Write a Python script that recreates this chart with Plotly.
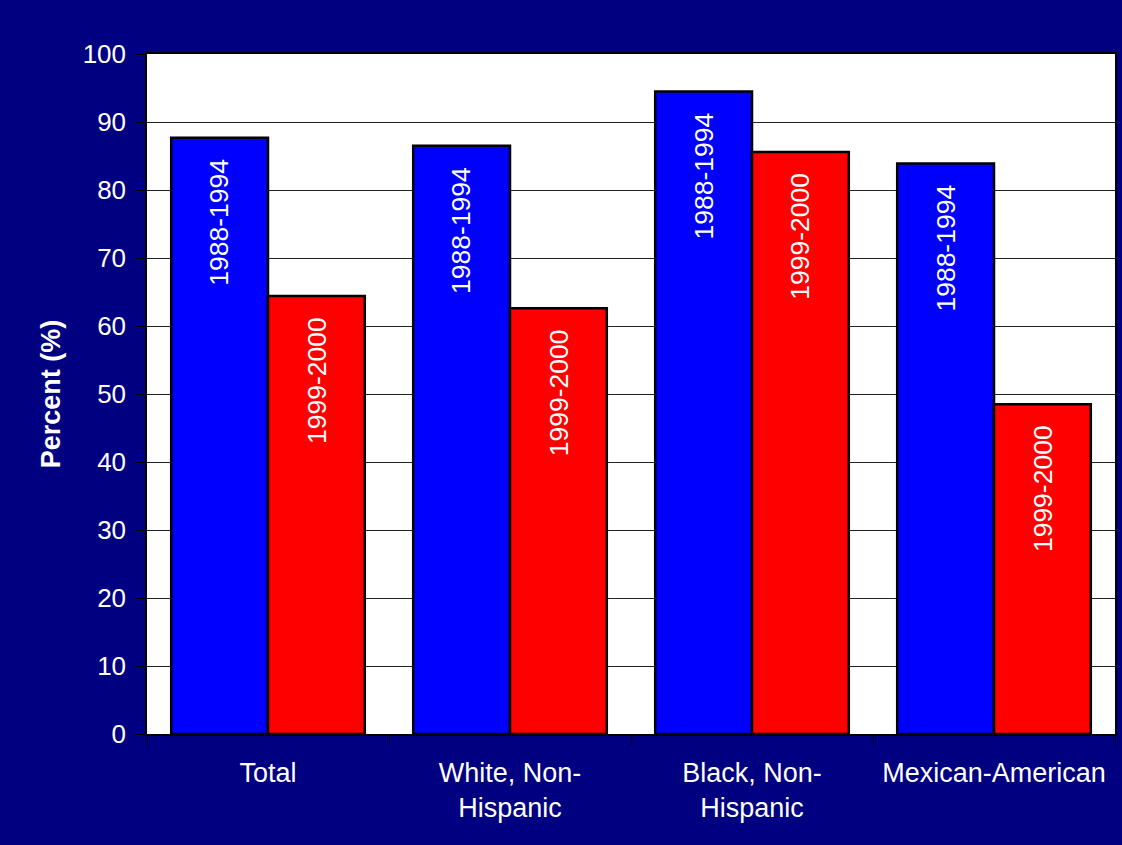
import plotly.graph_objects as go

# Groups and percentages for the two survey periods
categories = ["Total", "White, Non-<br>Hispanic", "Black, Non-<br>Hispanic", "Mexican-American"]
period_1 = "1988-1994"
period_2 = "1999-2000"
values_1 = [87.7, 86.5, 94.5, 83.9]
values_2 = [64.4, 62.6, 85.6, 48.5]
y_ticks = [0, 10, 20, 30, 40, 50, 60, 70, 80, 90, 100]

FONT = "Arial, Liberation Sans, sans-serif"
NAVY = "#000080"

fig = go.Figure()
fig.add_trace(go.Bar(
    x=categories, y=values_1, name=period_1,
    marker=dict(color="#0000FF", line=dict(color="black", width=2.5)),
))
fig.add_trace(go.Bar(
    x=categories, y=values_2, name=period_2,
    marker=dict(color="#FF0000", line=dict(color="black", width=2.5)),
))

# Rotated period labels near the top of each bar
for i, (v1, v2) in enumerate(zip(values_1, values_2)):
    for off, v, label in ((-0.2, v1, period_1), (0.2, v2, period_2)):
        fig.add_annotation(
            x=i + off, y=v, xref="x", yref="y",
            text=label, textangle=-90, showarrow=False,
            xanchor="center", yanchor="top", yshift=-19,
            font=dict(family=FONT, size=26.5, color="white"),
        )

fig.update_layout(
    width=1122, height=845,
    paper_bgcolor=NAVY, plot_bgcolor="white",
    margin=dict(l=147, r=5, t=54, b=111),
    barmode="group", bargap=0.2, bargroupgap=0,
    showlegend=False,
    font=dict(family=FONT, size=26, color="white"),
)
fig.update_xaxes(
    showline=True, linecolor="black", linewidth=1.5, mirror=True,
    ticks="outside", tickson="boundaries", ticklen=9, tickcolor="black",
    tickfont=dict(family=FONT, size=27, color="white"),
    ticklabelstandoff=14,
    showgrid=False,
)
fig.update_yaxes(
    range=[0, 100], tickvals=y_ticks,
    showline=True, linecolor="black", linewidth=1.5, mirror=True,
    ticks="outside", ticklen=8, tickcolor="black",
    tickfont=dict(family=FONT, size=26, color="white"),
    ticklabelstandoff=6,
    showgrid=True, gridcolor="#222222", gridwidth=1,
    zeroline=False,
    title=dict(text="<b>Percent (%)</b>", font=dict(family=FONT, size=27, color="white"), standoff=14),
)

fig.write_html("out.html")
